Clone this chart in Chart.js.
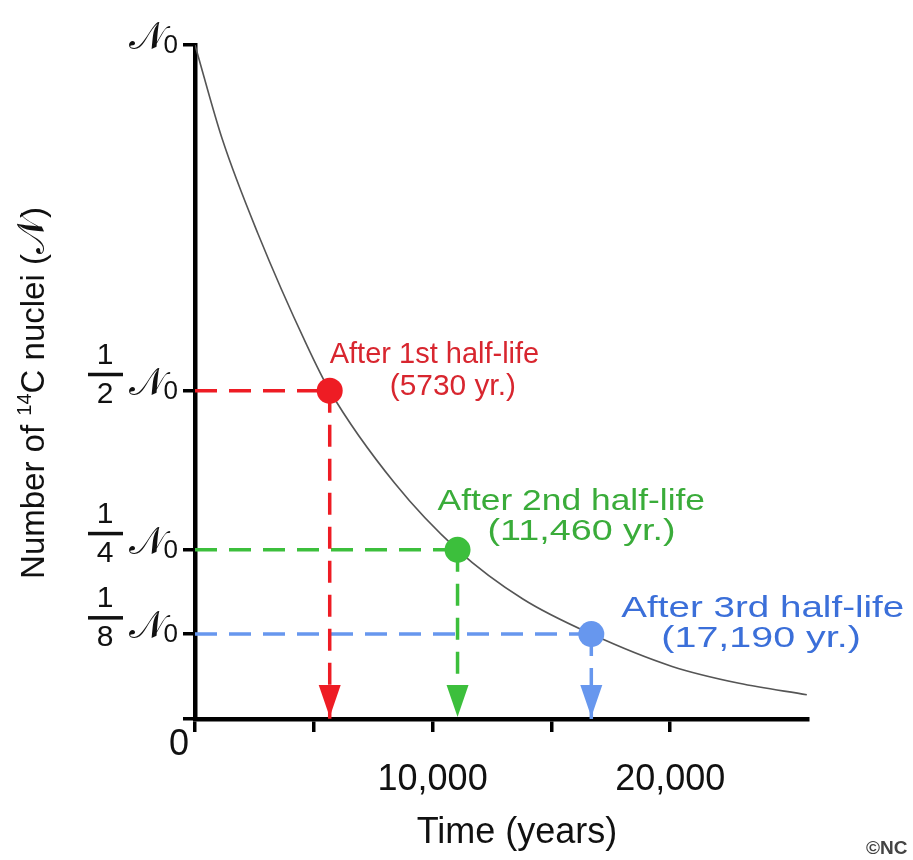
<!DOCTYPE html>
<html>
<head>
<meta charset="utf-8">
<script src="https://cdn.jsdelivr.net/npm/chart.js@4.4.0/dist/chart.umd.min.js"></script>
<style>
  html, body { margin: 0; background: #fff; }
  #wrap { width: 913px; height: 860px; }
</style>
</head>
<body>
<div id="wrap"><canvas id="decay"></canvas></div>
<script>
// decay curve (years, fraction of N0)
const curveYears    = [0, 1150, 2650, 4700, 5670, 8400, 11050, 13800, 16680, 20080, 22900, 25750];
const curveFraction = [1, 0.86, 0.72, 0.555, 0.487, 0.35, 0.251, 0.178, 0.126, 0.078, 0.053, 0.036];

// the three marked half-lives (where they sit on the drawing)
const halfLifeYears    = [5670, 11050, 16680];
const halfLifeFraction = [0.487, 0.251, 0.126];
const halfLifeTitles   = ['After 1st half-life', 'After 2nd half-life', 'After 3rd half-life'];
const halfLifeNotes    = ['(5730 yr.)', '(11,460 yr.)', '(17,190 yr.)'];

// axes
const xTickValues = [0, 5000, 10000, 15000, 20000];
const xTickLabels = ['', '', '10,000', '', '20,000'];
const yTickValues = [0, 0.126, 0.251, 0.487, 1];
const yTickDenoms = ['', '8', '4', '2', ''];

const dotColors  = ['#ee1c24', '#3cbf3c', '#6797ee'];
const textColors = ['#d8262f', '#3aac3a', '#3b6fd9'];
const FONT = '"Liberation Sans", Arial, sans-serif';
const SCRIPT_N = '\u{1D4A9}';

const datasets = [{
  type: 'line',
  data: curveYears.map((t, i) => ({x: t, y: curveFraction[i]})),
  borderColor: '#555',
  borderWidth: 1.6,
  pointRadius: 0,
  cubicInterpolationMode: 'monotone',
  order: 1
}];

halfLifeYears.forEach((t, i) => {
  const v = halfLifeFraction[i];
  datasets.push({
    type: 'line',
    data: [{x: 0, y: v}, {x: t, y: v}],
    borderColor: dotColors[i], borderWidth: 3.5, borderDash: [22, 12],
    pointRadius: 0, order: 2
  });
  datasets.push({
    type: 'line',
    data: [{x: t, y: v}, {x: t, y: 0}],
    borderColor: dotColors[i], borderWidth: 3.5, borderDash: [22, 12],
    pointRadius: 0, order: 2
  });
  datasets.push({
    type: 'scatter',
    data: [{x: t, y: v}],
    backgroundColor: dotColors[i], borderWidth: 0,
    pointRadius: 13, pointHoverRadius: 13, order: 0
  });
});

// label layout from each dot: [line1 dx, line1 dy, line1 stretch, line2 dx, line2 dy, line2 stretch]
const labelLayout = [
  [0, -28, 1, 60, 4, 1.03],
  [-20, -40, 1.22, 30, -10, 1.3],
  [30, -17, 1.33, 70, 13, 1.36]
];

function drawN0(ctx, right, y) {
  ctx.textAlign = 'right';
  ctx.textBaseline = 'alphabetic';
  ctx.font = '26px ' + FONT;
  ctx.fillText('0', right, y + 8);
  const w0 = ctx.measureText('0').width;
  ctx.font = '38px "DejaVu Serif", serif';
  ctx.fillText(SCRIPT_N, right - w0 + 1, y + 4);
}

function stretchedText(ctx, text, x, y, sx) {
  ctx.save();
  ctx.translate(x, y);
  ctx.scale(sx, 1);
  ctx.fillText(text, 0, 0);
  ctx.restore();
}

const decorations = {
  id: 'decorations',
  afterDraw(chart) {
    const ctx = chart.ctx;
    const xs = chart.scales.x, ys = chart.scales.y;
    const base = ys.getPixelForValue(0);
    ctx.save();

    halfLifeYears.forEach((t, i) => {
      const px = xs.getPixelForValue(t);
      const py = ys.getPixelForValue(halfLifeFraction[i]);
      ctx.fillStyle = dotColors[i];
      ctx.beginPath();
      ctx.moveTo(px - 11, base - 34);
      ctx.lineTo(px + 11, base - 34);
      ctx.lineTo(px, base - 2);
      ctx.closePath();
      ctx.fill();

      const o = labelLayout[i];
      ctx.fillStyle = textColors[i];
      ctx.font = '29px ' + FONT;
      ctx.textAlign = 'left';
      ctx.textBaseline = 'alphabetic';
      stretchedText(ctx, halfLifeTitles[i], px + o[0], py + o[1], o[2]);
      stretchedText(ctx, halfLifeNotes[i], px + o[3], py + o[4], o[5]);
    });

    // y tick labels
    yTickValues.forEach((v, i) => {
      if (v === 0) return;
      const py = ys.getPixelForValue(v);
      ctx.fillStyle = '#111';
      drawN0(ctx, 178, py);
      if (yTickDenoms[i]) {
        ctx.font = '30px ' + FONT;
        ctx.textAlign = 'center';
        ctx.textBaseline = 'middle';
        ctx.fillText('1', 105, py - 35);
        ctx.fillText(yTickDenoms[i], 105, py + 4);
        ctx.fillRect(88, py - 18, 35, 3.5);
      }
    });

    // x tick labels
    ctx.fillStyle = '#111';
    ctx.font = '36px ' + FONT;
    ctx.textAlign = 'center';
    ctx.textBaseline = 'alphabetic';
    xTickValues.forEach((v, i) => {
      if (xTickLabels[i]) ctx.fillText(xTickLabels[i], xs.getPixelForValue(v), 790);
    });
    ctx.fillText('0', 179, 755);
    ctx.fillText('Time (years)', 517, 843);

    // y axis title
    ctx.save();
    ctx.translate(44, 393);
    ctx.rotate(-Math.PI / 2);
    const parts = [
      ['Number of ', '33px ' + FONT, 0],
      ['14', '20px ' + FONT, -13],
      ['C nuclei (', '33px ' + FONT, 0],
      [SCRIPT_N, '38px "DejaVu Serif", serif', 0],
      [')', '33px ' + FONT, 0]
    ];
    let total = 0;
    parts.forEach(p => { ctx.font = p[1]; total += ctx.measureText(p[0]).width; });
    let cx = -total / 2;
    ctx.textAlign = 'left';
    parts.forEach(p => {
      ctx.font = p[1];
      ctx.fillText(p[0], cx, p[2]);
      cx += ctx.measureText(p[0]).width;
    });
    ctx.restore();

    ctx.font = 'bold 19px ' + FONT;
    ctx.textAlign = 'left';
    ctx.fillStyle = '#444';
    ctx.fillText('\u00A9NC', 866, 854);
    ctx.restore();
  }
};

new Chart(document.getElementById('decay'), {
  type: 'scatter',
  data: { datasets },
  plugins: [decorations],
  options: {
    responsive: true,
    maintainAspectRatio: false,
    animation: false,
    events: [],
    layout: { autoPadding: false, padding: { top: 45, right: 105, left: 0, bottom: 0 } },
    plugins: { legend: { display: false }, tooltip: { enabled: false } },
    scales: {
      x: {
        type: 'linear', min: 0, max: 25800,
        afterBuildTicks: s => { s.ticks = xTickValues.map(v => ({value: v})); },
        afterFit: s => { s.height = 860 - 719; },
        ticks: { display: false },
        grid: { drawOnChartArea: false, drawTicks: true, tickLength: 13, lineWidth: 3.5, color: '#000' },
        border: { display: true, color: '#000', width: 4.5 }
      },
      y: {
        type: 'linear', min: 0, max: 1,
        afterBuildTicks: s => { s.ticks = yTickValues.map(v => ({value: v})); },
        afterFit: s => { s.width = 195; },
        ticks: { display: false },
        grid: { drawOnChartArea: false, drawTicks: true, tickLength: 12, lineWidth: 3.5, color: '#000' },
        border: { display: true, color: '#000', width: 4.5 }
      }
    }
  }
});
</script>
</body>
</html>
